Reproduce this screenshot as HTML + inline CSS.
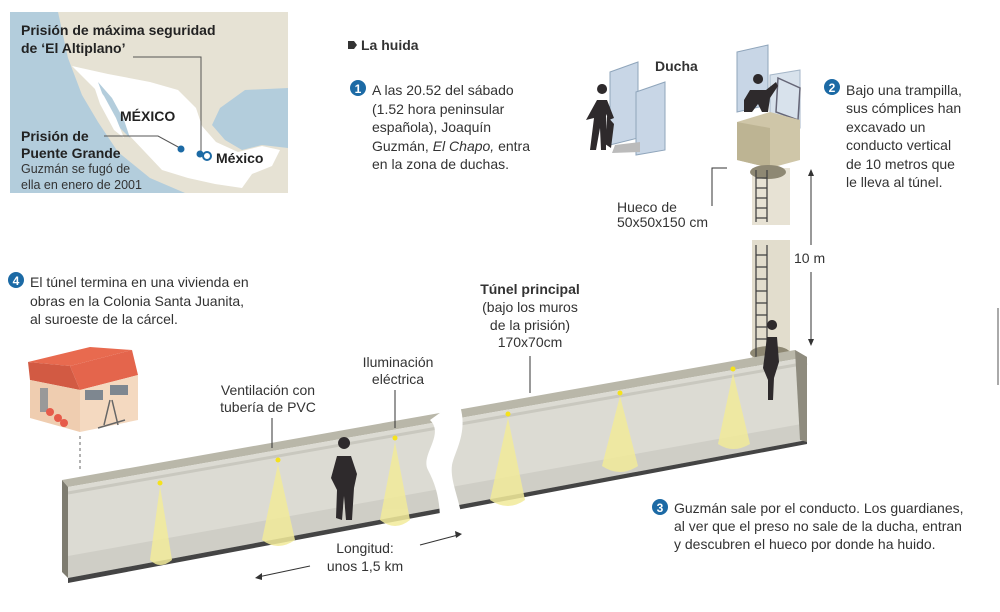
<!DOCTYPE html>
<html><head><meta charset="utf-8"><style>
body{margin:0;background:#fff;}
svg{display:block;font-family:"Liberation Sans",Arial,sans-serif;}
.t{font-size:14px;fill:#333;}
.b{font-weight:bold;}
</style></head><body>
<svg width="1000" height="612" viewBox="0 0 1000 612">
<!-- MAP -->
<rect x="10" y="12" width="278" height="181" fill="#b3cddc"/>
<path d="M58,12 L288,12 L288,88 L245,90 L220,108 L212,125 L225,140 L242,150 L262,145 L288,148 L288,193 L185,193 L150,178 L118,152 L98,122 L82,95 L68,58 Z" fill="#e6e2d4"/>
<path d="M72,66 L108,74 L150,82 L178,90 L196,108 L202,126 L216,142 L238,152 L262,146 L280,150 L272,166 L252,174 L242,188 L215,184 L188,178 L162,170 L145,152 L126,132 L108,110 L98,92 L84,78 Z" fill="#fff"/>
<path d="M98,82 L112,98 L124,120 L130,138 L120,128 L106,104 Z" fill="#b3cddc"/>
<path d="M92,80 L104,96 L116,118 L124,138 L114,130 L100,104 Z" fill="#fff"/>
<g fill="#222" style="font-size:14px;font-weight:bold">
<text x="21" y="35">Prisión de máxima seguridad</text>
<text x="21" y="53">de ‘El Altiplano’</text>
<text x="120" y="121">MÉXICO</text>
<text x="21" y="141">Prisión de</text>
<text x="21" y="158">Puente Grande</text>
<text x="216" y="163">México</text>
</g>
<text x="21" y="173" style="font-size:12.5px" fill="#333">Guzmán se fugó de</text>
<text x="21" y="189" style="font-size:12.5px" fill="#333">ella en enero de 2001</text>
<polyline points="133,57 201,57 201,152" fill="none" stroke="#555" stroke-width="1"/>
<polyline points="104,136 158,136 180,148" fill="none" stroke="#555" stroke-width="1"/>
<circle cx="181" cy="149" r="3.5" fill="#1c6aa5"/>
<circle cx="200" cy="154" r="3.5" fill="#1c6aa5"/>
<circle cx="207" cy="156" r="4" fill="#fff" stroke="#1c6aa5" stroke-width="2"/>

<!-- La huida -->
<path d="M348,41 L354,41 L357,45 L354,49 L348,49 Z" fill="#333"/>
<text x="361" y="50" class="t b">La huida</text>

<!-- step 1 -->
<circle cx="358" cy="88" r="8" fill="#1c6aa5"/><text x="358" y="93" text-anchor="middle" fill="#fff" style="font-size:12px;font-weight:bold">1</text>
<g class="t">
<text x="372" y="95">A las 20.52 del sábado</text>
<text x="372" y="114">(1.52 hora peninsular</text>
<text x="372" y="132">española), Joaquín</text>
<text x="372" y="151">Guzmán, <tspan font-style="italic">El Chapo,</tspan> entra</text>
<text x="372" y="169">en la zona de duchas.</text>
</g>

<!-- step 2 -->
<circle cx="832" cy="87" r="8" fill="#1c6aa5"/><text x="832" y="92" text-anchor="middle" fill="#fff" style="font-size:12px;font-weight:bold">2</text>
<g class="t">
<text x="846" y="95">Bajo una trampilla,</text>
<text x="846" y="113">sus cómplices han</text>
<text x="846" y="132">excavado un</text>
<text x="846" y="150">conducto vertical</text>
<text x="846" y="169">de 10 metros que</text>
<text x="846" y="187">le lleva al túnel.</text>
</g>

<!-- step 4 -->
<circle cx="16" cy="280" r="8" fill="#1c6aa5"/><text x="16" y="285" text-anchor="middle" fill="#fff" style="font-size:12px;font-weight:bold">4</text>
<g class="t">
<text x="30" y="287">El túnel termina en una vivienda en</text>
<text x="30" y="306">obras en la Colonia Santa Juanita,</text>
<text x="30" y="324">al suroeste de la cárcel.</text>
</g>

<!-- Shower -->
<path d="M610,72 L638,62 L638,138 L610,145 Z" fill="#c8d6e6" stroke="#8fa5bb"/>
<path d="M636,92 L665,82 L665,150 L636,155 Z" fill="#c8d6e6" stroke="#8fa5bb"/>
<path d="M615,145 L640,142 L640,152 L612,153 Z" fill="#bbb"/>
<text x="655" y="71" class="t b">Ducha</text>
<path d="M602,94 a5,5 0 1,1 0.1,0 M597,100 L607,100 L614,118 L609,120 L606,114 L606,150 L601,150 L600,128 L596,150 L590,150 L594,118 L586,120 Z" fill="#2e2a2c"/>
<path d="M607,116 L614,124 L611,148 L605,144 Z" fill="#2e2a2c"/>

<!-- Shaft top -->
<path d="M737,52 L768,45 L768,105 L737,112 Z" fill="#c8d6e6" stroke="#8fa5bb"/>
<path d="M770,75 L800,70 L800,128 L770,132 Z" fill="#cfdbe8" stroke="#8fa5bb" opacity="0.8"/>
<path d="M778,78 L800,88 L798,120 L776,112 Z" fill="none" stroke="#667" stroke-width="1.5"/>
<path d="M758,84 a5,5 0 1,1 0.1,0 M750,90 L766,90 L776,82 L778,86 L770,98 L768,112 L762,112 L758,104 L752,112 L744,112 L744,100 Z" fill="#2e2a2c"/>
<path d="M737,122 L770,112 L800,120 L800,160 L770,168 L737,160 Z" fill="#cfc6a8"/>
<path d="M737,122 L770,128 L770,168 L737,160 Z" fill="#bdb493"/>
<path d="M752,168 L790,168 L790,225 L752,225 Z" fill="#e7e2d4"/>
<path d="M752,240 L790,240 L790,360 L752,360 Z" fill="#e2ddcd"/>
<ellipse cx="768" cy="172" rx="18" ry="7" fill="#8e8873"/>
<ellipse cx="770" cy="353" rx="20" ry="7" fill="#8e8873"/>
<g stroke="#444" stroke-width="1.3">
<line x1="756" y1="170" x2="756" y2="222"/><line x1="767" y1="170" x2="767" y2="222"/>
<line x1="756" y1="245" x2="756" y2="440"/><line x1="767" y1="245" x2="767" y2="440"/>
<line x1="756" y1="178" x2="767" y2="178"/><line x1="756" y1="188" x2="767" y2="188"/><line x1="756" y1="198" x2="767" y2="198"/><line x1="756" y1="208" x2="767" y2="208"/><line x1="756" y1="218" x2="767" y2="218"/>
<line x1="756" y1="255" x2="767" y2="255"/><line x1="756" y1="267" x2="767" y2="267"/><line x1="756" y1="279" x2="767" y2="279"/><line x1="756" y1="291" x2="767" y2="291"/><line x1="756" y1="303" x2="767" y2="303"/><line x1="756" y1="315" x2="767" y2="315"/><line x1="756" y1="327" x2="767" y2="327"/><line x1="756" y1="339" x2="767" y2="339"/><line x1="756" y1="390" x2="767" y2="390"/><line x1="756" y1="402" x2="767" y2="402"/><line x1="756" y1="414" x2="767" y2="414"/><line x1="756" y1="426" x2="767" y2="426"/>
</g>
<text x="617" y="212" class="t">Hueco de</text>
<text x="617" y="227" class="t">50x50x150 cm</text>
<polyline points="712,206 712,168 727,168" fill="none" stroke="#333"/>
<line x1="811" y1="172" x2="811" y2="245" stroke="#333"/><line x1="811" y1="272" x2="811" y2="343" stroke="#333"/>
<path d="M808,176 L811,169 L814,176 Z M808,339 L811,346 L814,339 Z" fill="#333"/>
<text x="794" y="263" class="t">10 m</text>

<!-- Tunnel -->
<path d="M62,480 L795,350 L807,357 L68,487 Z" fill="#b9b7a9"/>
<path d="M68,487 L807,357 L807,440 L68,578 Z" fill="#dcdbd3"/>
<path d="M68,556 L807,423 L807,440 L68,578 Z" fill="#cfcec6"/>
<path d="M68,493 L807,363" stroke="#c9c8bf" stroke-width="3"/>
<path d="M62,480 L68,487 L68,578 L62,572 Z" fill="#7e7c70"/>
<path d="M68,578 L807,440 L807,444 L68,583 Z" fill="#444"/>
<path d="M795,350 L807,357 L807,442 L800,440 Z" fill="#8e8b7e"/>
<!-- break -->
<path d="M430,420 C445,435 420,455 428,470 C436,485 440,500 440,522 L462,518 C458,495 450,480 452,465 C455,450 470,430 458,400 Z" fill="#fff"/>
<!-- lights -->
<g fill="#f2eb9a" opacity="0.85">
<path d="M160,486 L150,560 Q160,570 172,560 Z"/>
<path d="M278,464 L262,540 Q278,552 295,540 Z"/>
<path d="M395,442 L380,520 Q395,532 410,520 Z"/>
<path d="M508,418 L490,500 Q508,512 525,500 Z"/>
<path d="M620,396 L602,466 Q620,478 638,466 Z"/>
<path d="M733,373 L718,444 Q733,454 750,444 Z"/>
</g>
<g fill="#f5e21c">
<circle cx="160" cy="483" r="2.5"/><circle cx="278" cy="460" r="2.5"/><circle cx="395" cy="438" r="2.5"/><circle cx="508" cy="414" r="2.5"/><circle cx="620" cy="393" r="2.5"/><circle cx="733" cy="369" r="2.5"/>
</g>
<!-- person in tunnel -->
<path d="M344,449 a6,6 0 1,1 0.1,0 M337,456 L351,456 L357,474 L354,488 L352,520 L346,520 L344,496 L342,520 L336,518 L337,490 L331,478 Z" fill="#2e2a2c"/>
<!-- climbing person -->
<path d="M772,330 a5,5 0 1,1 0.1,0 M767,337 L777,337 L779,362 L774,378 L773,400 L768,400 L768,380 L763,368 Z" fill="#2e2a2c"/>

<!-- labels in tunnel -->
<g class="t" text-anchor="middle">
<text x="530" y="294" class="b">Túnel principal</text>
<text x="530" y="312">(bajo los muros</text>
<text x="530" y="330">de la prisión)</text>
<text x="530" y="347">170x70cm</text>
<text x="398" y="367">Iluminación</text>
<text x="398" y="384">eléctrica</text>
<text x="268" y="395">Ventilación con</text>
<text x="268" y="412">tubería de PVC</text>
<text x="365" y="553">Longitud:</text>
<text x="365" y="571">unos 1,5 km</text>
</g>
<line x1="530" y1="356" x2="530" y2="393" stroke="#333"/>
<line x1="395" y1="390" x2="395" y2="428" stroke="#333"/>
<line x1="272" y1="418" x2="272" y2="448" stroke="#333"/>
<line x1="310" y1="566" x2="258" y2="577" stroke="#333"/><path d="M255,578 L262,573 L262,580 Z" fill="#333"/>
<line x1="420" y1="545" x2="458" y2="535" stroke="#333"/><path d="M462,534 L455,531 L456,538 Z" fill="#333"/>

<!-- step 3 -->
<circle cx="660" cy="507" r="8" fill="#1c6aa5"/><text x="660" y="512" text-anchor="middle" fill="#fff" style="font-size:12px;font-weight:bold">3</text>
<g class="t">
<text x="674" y="513">Guzmán sale por el conducto. Los guardianes,</text>
<text x="674" y="531">al ver que el preso no sale de la ducha, entran</text>
<text x="674" y="549">y descubren el hueco por donde ha huido.</text>
</g>

<!-- House -->
<path d="M28,362 L90,347 L132,350 L70,366 Z" fill="#e86a4f"/>
<path d="M70,366 L132,350 L138,375 L80,390 Z" fill="#e4654c"/>
<path d="M28,362 L70,366 L80,390 L30,380 Z" fill="#d25a43"/>
<path d="M30,380 L80,390 L80,432 L30,418 Z" fill="#efcdb0"/>
<path d="M80,390 L138,375 L138,420 L80,432 Z" fill="#f4d9c0"/>
<rect x="85" y="390" width="18" height="10" fill="#7e8790"/><rect x="110" y="385" width="18" height="10" fill="#7e8790"/>
<rect x="40" y="388" width="8" height="24" fill="#999"/>
<circle cx="50" cy="412" r="4" fill="#e65b4a"/><circle cx="58" cy="418" r="4" fill="#e65b4a"/><circle cx="64" cy="423" r="4" fill="#e65b4a"/>
<path d="M110,400 L104,425 M112,400 L118,425 M98,428 L125,420" stroke="#666" stroke-width="1.5"/>
<line x1="80" y1="436" x2="80" y2="470" stroke="#666" stroke-dasharray="3,3"/>
<line x1="998" y1="308" x2="998" y2="385" stroke="#aaa" stroke-width="2"/>
</svg>
</body></html>
